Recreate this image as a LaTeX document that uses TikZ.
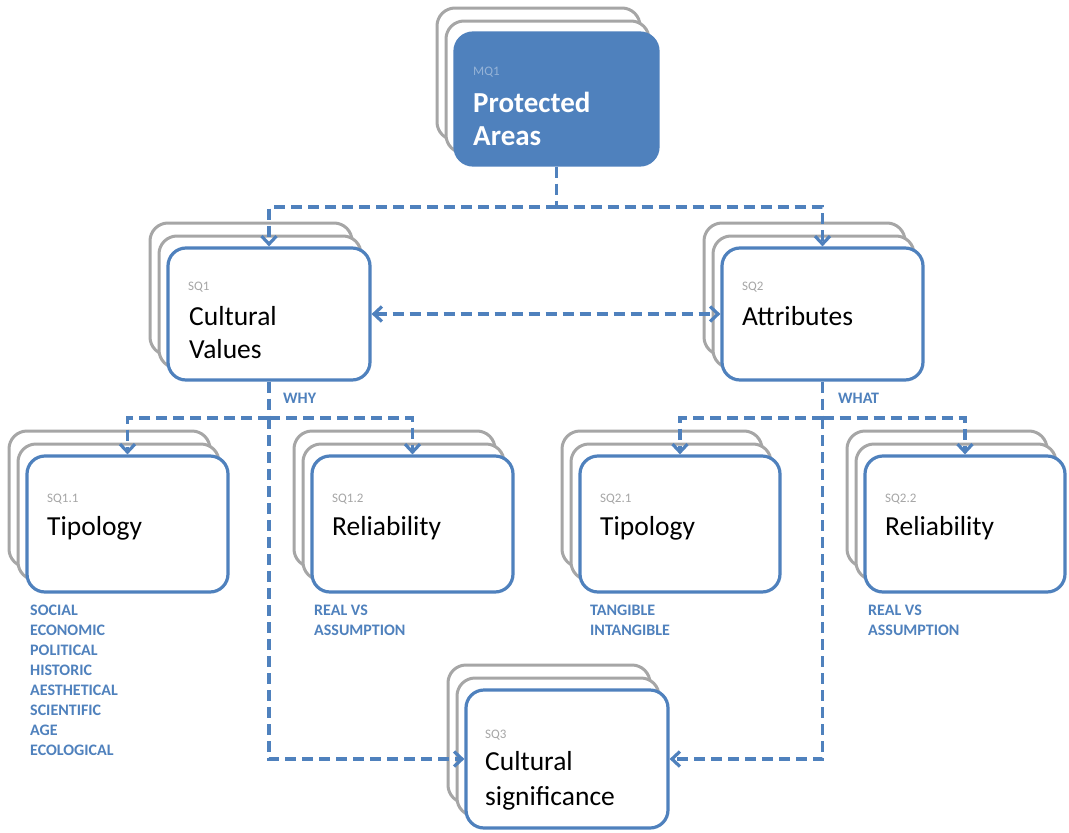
\documentclass[tikz,border=0pt]{standalone}
\usepackage{fontspec}
\setmainfont{Carlito}
\usetikzlibrary{arrows.meta}
\definecolor{ob}{HTML}{4F81BD}
\definecolor{bg}{HTML}{A6A6A6}
\definecolor{lb}{HTML}{95B3D7}
\tikzset{
 backbox/.style={draw=bg, line width=3pt, fill=white, rounded corners=18pt},
 frontbox/.style={draw=ob, line width=3.2pt, fill=white, rounded corners=18pt, inner sep=0pt},
 conn/.style={draw=ob, line width=3.2pt, dash pattern=on 11pt off 6pt},
 title/.style={anchor=base west, inner sep=0pt, font=\fontsize{27.5}{33}\selectfont},
 lab/.style={anchor=base west, inner sep=0pt, text=bg, font=\fontsize{13}{15}\selectfont},
 listtxt/.style={anchor=base west, inner sep=0pt, text=ob, font=\bfseries\fontsize{16}{20}\selectfont},
}
\newcommand\stackbox[6]{%
 \draw[backbox] ({#2-18},{#3-25}) rectangle ({#4-18},{#5-25});
 \draw[backbox] ({#2-9},{#3-12}) rectangle ({#4-9},{#5-12});
 \node[frontbox,#6,minimum width={#4-#2},minimum height={#5-#3}] (#1) at ({(#2+#4)/2},{(#3+#5)/2}) {};
}
\begin{document}
\begin{tikzpicture}[x=1pt,y=-1pt,>={Straight Barb[length=8pt,width=15pt]}]
\useasboundingbox[fill=white] (0,0) rectangle (1069,833);
% boxes
\stackbox{mq}{455}{33}{658}{165}{fill=ob}
\stackbox{sq1}{168}{248}{370}{380}{}
\stackbox{sq2}{722}{248}{923}{380}{}
\stackbox{sq11}{27}{456}{228}{592}{}
\stackbox{sq12}{312}{456}{513}{592}{}
\stackbox{sq21}{580}{456}{780}{592}{}
\stackbox{sq22}{865}{456}{1065}{592}{}
\stackbox{sq3}{466}{690}{668}{828}{}
% texts
\node[lab, text=lb] (mql) at (473,75) {MQ1};
\node[title, text=white, font=\bfseries\fontsize{29}{33}\selectfont] (mqa) at (473,112) {Protected};
\node[title, text=white, font=\bfseries\fontsize{29}{33}\selectfont] (mqb) at (473,145) {Areas};
\node[lab] (sq1l) at (188,290) {SQ1};
\node[title] (sq1a) at (189,325) {Cultural};
\node[title] (sq1b) at (189,358) {Values};
\node[lab] (sq2l) at (742,290) {SQ2};
\node[title] (sq2a) at (742,325) {Attributes};
\node[lab] (sq11l) at (47,502) {SQ1.1};
\node[title] (sq11a) at (47,535) {Tipology};
\node[lab] (sq12l) at (332,502) {SQ1.2};
\node[title] (sq12a) at (332,535) {Reliability};
\node[lab] (sq21l) at (600,502) {SQ2.1};
\node[title] (sq21a) at (600,535) {Tipology};
\node[lab] (sq22l) at (885,502) {SQ2.2};
\node[title] (sq22a) at (885,535) {Reliability};
\node[lab] (sq3l) at (485,738) {SQ3};
\node[title] (sq3a) at (485,770) {Cultural};
\node[title] (sq3b) at (485,805) {significance};
% lists
\foreach \w [count=\i] in {SOCIAL,ECONOMIC,POLITICAL,HISTORIC,AESTHETICAL,SCIENTIFIC,AGE,ECOLOGICAL}
  \node[listtxt] (ta\i) at (30,{595+20*\i}) {\w};
\node[listtxt] (tb1) at (314,615) {REAL VS};
\node[listtxt] (tb2) at (314,635) {ASSUMPTION};
\node[listtxt] (tc1) at (590,615) {TANGIBLE};
\node[listtxt] (tc2) at (590,635) {INTANGIBLE};
\node[listtxt] (td1) at (868,615) {REAL VS};
\node[listtxt] (td2) at (868,635) {ASSUMPTION};
\node[listtxt] (why) at (283,403) {WHY};
\node[listtxt] (what) at (838,403) {WHAT};
% connectors
\coordinate (j1) at (mq.south |- 0,207);
\draw[conn] (mq.south) -- (j1);
\draw[conn,->] (j1) -| (sq1.north);
\draw[conn,->] (j1) -| (sq2.north);
\draw[conn,<->] (sq1.east) -- (sq2.west);
\coordinate (j2) at (sq1.south |- 0,418);
\coordinate (j3) at (sq2.south |- 0,418);
\draw[conn] (sq1.south) -- (j2);
\draw[conn,->] (j2) -| (sq11.north);
\draw[conn,->] (j2) -| (sq12.north);
\draw[conn,->] (j2) |- (sq3.west);
\draw[conn] (sq2.south) -- (j3);
\draw[conn,->] (j3) -| (sq21.north);
\draw[conn,->] (j3) -| (sq22.north);
\draw[conn,->] (j3) |- (sq3.east);
\end{tikzpicture}
\end{document}
